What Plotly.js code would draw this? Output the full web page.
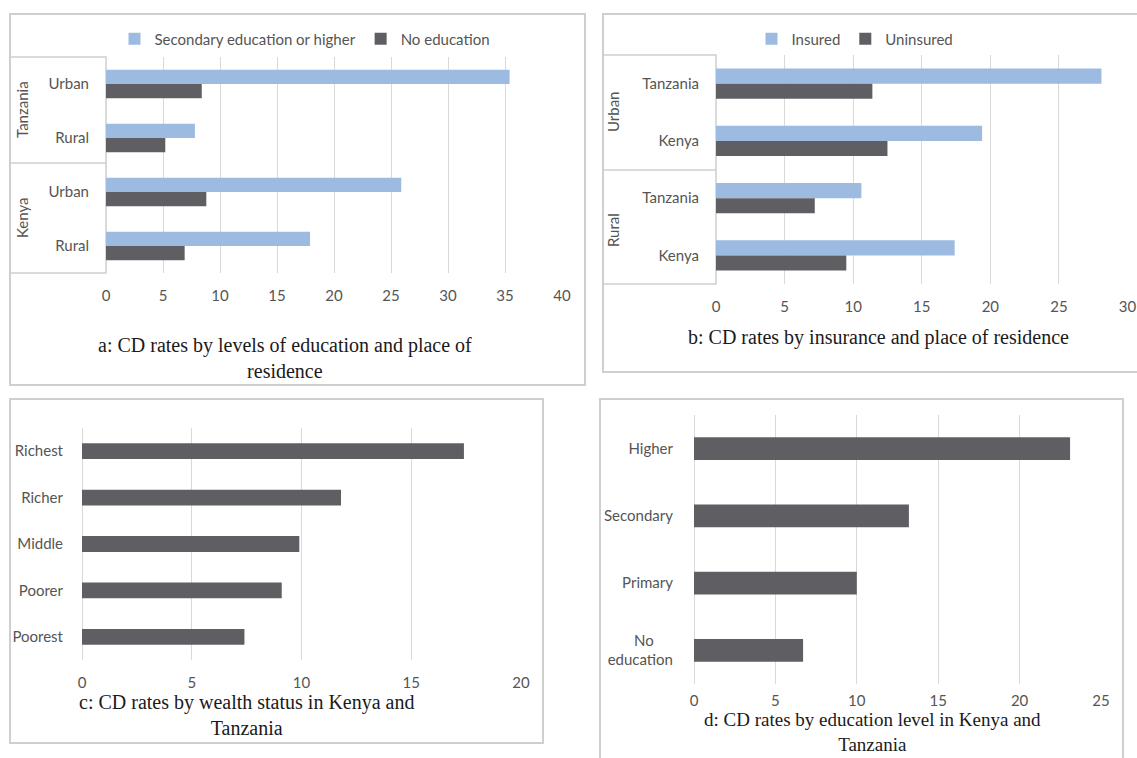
<!DOCTYPE html>
<html>
<head>
<meta charset="utf-8">
<script src="https://cdn.plot.ly/plotly-3.0.1.min.js"></script>
<style>html,body{margin:0;padding:0;background:#fff;}#chart{width:1137px;height:758px;}</style>
</head>
<body>
<div id="chart"></div>
<script>
// ---------- DATA ----------
// Panel a: CD rates by levels of education and place of residence
const countryA = ["Tanzania", "Tanzania", "Kenya", "Kenya"];
const residenceA = ["Urban", "Rural", "Urban", "Rural"];
const secondaryOrHigherA = [35.4, 7.8, 25.9, 17.9];
const noEducationA = [8.4, 5.2, 8.8, 6.9];

// Panel b: CD rates by insurance and place of residence
const residenceB = ["Urban", "Urban", "Rural", "Rural"];
const countryB = ["Tanzania", "Kenya", "Tanzania", "Kenya"];
const insuredB = [28.1, 19.4, 10.6, 17.4];
const uninsuredB = [11.4, 12.5, 7.2, 9.5];

// Panel c: CD rates by wealth status
const wealthC = ["Richest", "Richer", "Middle", "Poorer", "Poorest"];
const cdWealthC = [17.4, 11.8, 9.9, 9.1, 7.4];

// Panel d: CD rates by education level
const eduLevelsD = ["Higher", "Secondary", "Primary", "No\u00a0\u00a0\u00a0\u00a0\u00a0<br>education"];
const cdEduD = [23.1, 13.2, 10.0, 6.7];

// ---------- STYLE ----------
const W = 1137, H = 758;
const px = v => v / W;
const py = v => 1 - v / H;
const BLUE = "#9dbbe0";
const DARK = "#5f5e63";
const GRID = "#d9d9d9";
const BOXLINE = "#cfcfcf";
const TXT = "#555555";
const SANS = "Lato, 'Open Sans', sans-serif";
const SERIF = "'Liberation Serif', 'Times New Roman', serif";
const FS = 15;

const idsA = countryA.map((c, i) => c + " " + residenceA[i]);
const idsB = countryB.map((c, i) => residenceB[i] + " " + c);

const traces = [
  {type: "bar", orientation: "h", y: idsA, x: secondaryOrHigherA, name: "Secondary education or higher",
   marker: {color: BLUE}, xaxis: "x", yaxis: "y", legend: "legend", hoverinfo: "x"},
  {type: "bar", orientation: "h", y: idsA, x: noEducationA, name: "No education",
   marker: {color: DARK}, xaxis: "x", yaxis: "y", legend: "legend", hoverinfo: "x"},
  {type: "bar", orientation: "h", y: idsB, x: insuredB, name: "Insured",
   marker: {color: BLUE}, xaxis: "x2", yaxis: "y2", legend: "legend2", hoverinfo: "x"},
  {type: "bar", orientation: "h", y: idsB, x: uninsuredB, name: "Uninsured",
   marker: {color: DARK}, xaxis: "x2", yaxis: "y2", legend: "legend2", hoverinfo: "x"},
  {type: "bar", orientation: "h", y: wealthC, x: cdWealthC, name: "Wealth", width: 0.34,
   marker: {color: DARK}, xaxis: "x3", yaxis: "y3", showlegend: false, hoverinfo: "x"},
  {type: "bar", orientation: "h", y: eduLevelsD, x: cdEduD, name: "Education", width: 0.34,
   marker: {color: DARK}, xaxis: "x4", yaxis: "y4", showlegend: false, hoverinfo: "x"}
];

function xax(domain, range, anchor, standoff) {
  return {domain: domain, range: range, dtick: 5, tick0: 0, anchor: anchor,
    showgrid: true, gridcolor: GRID, gridwidth: 1, zeroline: true, zerolinecolor: GRID, zerolinewidth: 1,
    showline: false, ticks: "", ticklabelstandoff: standoff, fixedrange: true,
    tickfont: {family: SANS, size: FS, color: TXT}};
}
function yax(domain, cats, text, anchor, standoff) {
  return {domain: domain, type: "category", categoryorder: "array", categoryarray: cats,
    tickvals: cats, ticktext: text, autorange: "reversed", anchor: anchor,
    showgrid: false, zeroline: false, showline: false, ticks: "", ticklabelstandoff: standoff, fixedrange: true,
    tickfont: {family: SANS, size: FS, color: TXT}};
}

const frameLine = {color: BOXLINE, width: 2};
const boxLine = {color: BOXLINE, width: 1.5};
function rect(x0, y0, x1, y1, line) {
  return {type: "rect", xref: "paper", yref: "paper", x0: px(x0), x1: px(x1), y0: py(y0), y1: py(y1),
    line: line, fillcolor: "rgba(0,0,0,0)", layer: "below"};
}
function hline(x0, x1, y, line) {
  return {type: "line", xref: "paper", yref: "paper", x0: px(x0), x1: px(x1), y0: py(y), y1: py(y), line: line, layer: "below"};
}

function caption(text, x, y, size) {
  return {xref: "paper", yref: "paper", x: px(x), y: py(y), xanchor: "center", yanchor: "middle",
    text: text, showarrow: false, font: {family: SERIF, size: size || 20, color: "#1a1a1a"}, align: "center"};
}
function groupLabel(text, x, y) {
  return {xref: "paper", yref: "paper", x: px(x), y: py(y), xanchor: "center", yanchor: "middle",
    text: text, showarrow: false, textangle: -90, font: {family: SANS, size: FS, color: TXT}};
}

const layout = {
  width: W, height: H, margin: {l: 0, r: 0, t: 0, b: 0},
  paper_bgcolor: "#ffffff", plot_bgcolor: "#ffffff",
  barmode: "group", bargap: 0.47, bargroupgap: 0,
  showlegend: true,
  legend: {orientation: "h", x: px(305), xanchor: "center", y: py(39), yanchor: "middle",
    font: {family: SANS, size: FS, color: TXT}, bgcolor: "rgba(0,0,0,0)", itemwidth: 30, traceorder: "normal"},
  legend2: {orientation: "h", x: px(855), xanchor: "center", y: py(39), yanchor: "middle",
    font: {family: SANS, size: FS, color: TXT}, bgcolor: "rgba(0,0,0,0)", itemwidth: 30, traceorder: "normal"},
  xaxis: xax([px(106), px(562)], [0, 40], "y", 12),
  yaxis: yax([py(273), py(57)], idsA, residenceA, "x", 16),
  xaxis2: xax([px(716), px(1127.5)], [0, 30], "y2", 12),
  yaxis2: yax([py(284), py(55)], idsB, countryB, "x2", 16),
  xaxis3: xax([px(82), px(521)], [0, 20], "y3", 12),
  yaxis3: yax([py(660), py(428)], wealthC, wealthC, "x3", 18),
  xaxis4: xax([px(694), px(1101)], [0, 25], "y4", 6),
  yaxis4: yax([py(684), py(415)], eduLevelsD, eduLevelsD, "x4", 20),
  shapes: [
    rect(10, 14, 585, 385, frameLine),
    rect(603, 14, 1145, 372, frameLine),
    rect(10, 399, 543, 743, frameLine),
    rect(600, 399, 1123, 770, frameLine),
    rect(10, 57, 106, 273, boxLine),
    hline(10, 106, 163, boxLine),
    rect(603, 55, 716, 284, boxLine),
    hline(603, 716, 170, boxLine)
  ],
  annotations: [
    groupLabel("Tanzania", 22, 110),
    groupLabel("Kenya", 22, 218),
    groupLabel("Urban", 613, 112),
    groupLabel("Rural", 613, 230),
    caption("a: CD rates by levels of education and place of<br>residence", 285, 358),
    caption("b: CD rates by insurance and place of residence", 878, 338),
    caption("c: CD rates by wealth status in Kenya and<br>Tanzania", 246, 715),
    caption("d: CD rates by education level in Kenya and<br>Tanzania", 872, 732, 19)
  ]
};

Plotly.newPlot("chart", traces, layout, {displayModeBar: false, staticPlot: true});
</script>
</body>
</html>
